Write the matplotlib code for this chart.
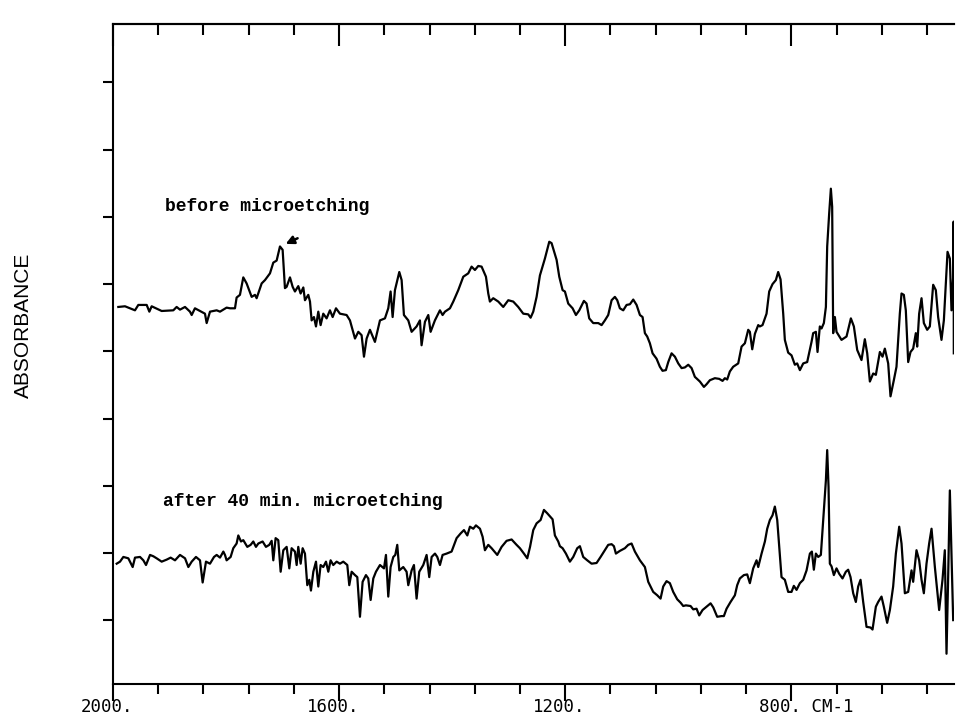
import matplotlib.pyplot as plt
import matplotlib.transforms as mtransforms
import numpy as np

# spectrum before microetching (wavenumber in cm-1, absorbance in arbitrary units)
before_wn = [
    1990.6, 1978.8, 1961.1, 1955.2, 1940.4, 1935.7, 1931.6, 1913.9, 1893.3, 1887.4,
    1881.5, 1872.6, 1863.8, 1860.8, 1855.0, 1846.1, 1837.3, 1834.3, 1828.4, 1816.6,
    1810.7, 1799.0, 1793.0, 1784.2, 1781.3, 1775.4, 1769.5, 1763.6, 1754.7, 1748.8,
    1745.9, 1737.0, 1731.1, 1722.3, 1716.4, 1710.5, 1704.6, 1699.9, 1695.8, 1692.8,
    1686.9, 1682.2, 1678.1, 1672.2, 1668.1, 1663.3, 1660.4, 1654.5, 1651.5, 1648.6,
    1644.5, 1640.9, 1636.8, 1632.7, 1628.0, 1622.1, 1616.2, 1611.4, 1605.5, 1598.5,
    1586.7, 1580.8, 1576.1, 1571.9, 1566.0, 1560.2, 1556.0, 1551.3, 1545.4, 1536.6,
    1527.7, 1518.9, 1513.0, 1508.9, 1505.3, 1501.2, 1493.5, 1489.4, 1485.3, 1477.6,
    1471.7, 1462.9, 1457.0, 1454.1, 1448.1, 1442.2, 1438.1, 1430.5, 1424.5, 1421.6,
    1416.9, 1412.7, 1403.9, 1398.0, 1389.2, 1380.3, 1371.5, 1365.6, 1359.7, 1353.8,
    1347.9, 1340.2, 1336.1, 1333.2, 1327.3, 1318.4, 1309.6, 1300.7, 1291.9, 1283.1,
    1274.2, 1265.4, 1261.2, 1256.5, 1250.6, 1244.7, 1235.9, 1228.2, 1224.1, 1215.2,
    1210.5, 1204.6, 1200.5, 1194.6, 1186.9, 1181.0, 1175.1, 1166.9, 1162.2, 1157.5,
    1150.4, 1141.5, 1135.6, 1129.8, 1123.9, 1117.9, 1112.1, 1107.9, 1103.3, 1097.3,
    1091.4, 1085.5, 1079.6, 1073.7, 1067.8, 1063.1, 1059.0, 1054.9, 1050.2, 1045.4,
    1038.4, 1032.5, 1027.8, 1021.9, 1017.7, 1011.8, 1005.9, 1000.0, 994.1, 988.3,
    982.3, 976.4, 970.6, 961.7, 954.6, 949.9, 944.0, 935.2, 927.5, 921.6,
    917.5, 913.4, 908.7, 902.8, 893.9, 888.0, 882.1, 876.2, 873.3, 869.1,
    864.4, 858.5, 855.6, 850.9, 843.8, 839.1, 833.2, 827.3, 823.2, 819.0,
    814.3, 811.4, 805.5, 799.6, 793.7, 789.6, 784.8, 778.9, 771.9, 764.2,
    761.3, 756.5, 753.6, 749.5, 746.5, 742.4, 738.8, 736.5, 733.0, 730.0,
    727.7, 725.9, 722.9, 720.0, 711.2, 702.3, 694.6, 689.3, 683.4, 675.8,
    669.9, 665.7, 661.0, 655.1, 650.4, 643.3, 638.6, 634.5, 628.6, 624.5,
    618.6, 613.9, 608.0, 605.0, 600.9, 597.4, 593.2, 589.1, 584.4, 579.7,
    577.3, 573.8, 569.6, 565.5, 559.6, 554.9, 549.0, 544.3, 540.2, 534.3,
    530.1, 523.6, 519.5, 516.6, 513.6, 512.8, 512.5,
]
before_abs = [
    4.66, 4.67, 4.61, 4.69, 4.69, 4.59, 4.67, 4.60, 4.61, 4.66,
    4.62, 4.66, 4.59, 4.54, 4.64, 4.60, 4.56, 4.42, 4.59, 4.61,
    4.59, 4.65, 4.64, 4.64, 4.80, 4.84, 5.10, 5.01, 4.81, 4.84,
    4.79, 5.01, 5.06, 5.16, 5.32, 5.35, 5.56, 5.51, 4.94, 4.96,
    5.10, 4.96, 4.89, 4.97, 4.86, 4.95, 4.76, 4.84, 4.74, 4.46,
    4.51, 4.37, 4.59, 4.39, 4.56, 4.49, 4.61, 4.51, 4.64, 4.56,
    4.54, 4.46, 4.32, 4.19, 4.29, 4.24, 3.92, 4.19, 4.32, 4.14,
    4.46, 4.49, 4.64, 4.89, 4.51, 4.91, 5.18, 5.06, 4.54, 4.46,
    4.29, 4.37, 4.46, 4.09, 4.44, 4.54, 4.29, 4.46, 4.56, 4.61,
    4.54, 4.59, 4.64, 4.74, 4.91, 5.11, 5.16, 5.26, 5.21, 5.27,
    5.26, 5.11, 4.86, 4.74, 4.79, 4.74, 4.66, 4.76, 4.74, 4.66,
    4.56, 4.55, 4.50, 4.59, 4.81, 5.13, 5.38, 5.63, 5.61, 5.36,
    5.11, 4.91, 4.89, 4.71, 4.64, 4.54, 4.61, 4.75, 4.71, 4.49,
    4.42, 4.42, 4.39, 4.46, 4.54, 4.76, 4.81, 4.76, 4.64, 4.61,
    4.69, 4.70, 4.77, 4.69, 4.54, 4.51, 4.27, 4.22, 4.12, 3.97,
    3.89, 3.77, 3.71, 3.72, 3.84, 3.97, 3.92, 3.82, 3.75, 3.76,
    3.80, 3.75, 3.62, 3.55, 3.47, 3.51, 3.57, 3.60, 3.59, 3.56,
    3.60, 3.58, 3.70, 3.77, 3.82, 4.07, 4.12, 4.32, 4.29, 4.03,
    4.26, 4.39, 4.37, 4.39, 4.56, 4.89, 5.00, 5.06, 5.18, 5.07,
    4.56, 4.17, 3.98, 3.94, 3.80, 3.82, 3.72, 3.82, 3.84, 4.14,
    4.27, 4.29, 3.99, 4.37, 4.34, 4.42, 4.66, 5.56, 6.05, 6.42,
    6.15, 4.27, 4.51, 4.29, 4.17, 4.22, 4.49, 4.37, 4.02, 3.87,
    4.18, 3.97, 3.55, 3.67, 3.65, 3.99, 3.92, 4.04, 3.82, 3.33,
    3.57, 3.77, 4.56, 4.86, 4.84, 4.61, 3.84, 3.99, 4.04, 4.27,
    4.07, 4.56, 4.79, 4.42, 4.32, 4.37, 4.99, 4.91, 4.51, 4.17,
    4.46, 5.48, 5.38, 4.61, 5.11, 5.93, 3.97,
]

# spectrum after 40 min. microetching
after_wn = [
    1993.5, 1987.6, 1981.7, 1972.9, 1965.2, 1961.1, 1952.2, 1946.3, 1941.6, 1934.5,
    1928.6, 1922.8, 1913.9, 1905.1, 1898.0, 1890.3, 1881.5, 1872.6, 1866.7, 1860.8,
    1853.2, 1846.1, 1841.4, 1835.5, 1828.4, 1821.3, 1816.6, 1810.7, 1804.8, 1801.9,
    1799.0, 1791.9, 1787.2, 1781.3, 1778.3, 1773.6, 1769.5, 1762.4, 1756.5, 1751.8,
    1747.1, 1742.9, 1735.3, 1729.4, 1723.5, 1719.3, 1716.4, 1712.3, 1707.6, 1703.4,
    1698.7, 1692.8, 1688.1, 1684.0, 1678.1, 1675.1, 1672.2, 1668.0, 1664.5, 1660.4,
    1656.3, 1652.7, 1649.8, 1645.6, 1640.9, 1636.8, 1632.7, 1628.0, 1623.2, 1619.1,
    1615.0, 1610.3, 1604.4, 1598.5, 1592.6, 1585.5, 1582.0, 1577.8, 1571.9, 1567.8,
    1563.1, 1558.4, 1552.5, 1548.4, 1544.2, 1539.5, 1534.8, 1527.7, 1520.6, 1517.1,
    1513.0, 1508.9, 1504.1, 1500.6, 1497.1, 1493.5, 1486.5, 1480.6, 1477.6, 1471.7,
    1467.6, 1462.9, 1458.2, 1451.1, 1445.2, 1440.5, 1436.3, 1430.4, 1426.3, 1421.6,
    1416.9, 1409.8, 1401.0, 1392.1, 1385.0, 1379.1, 1373.2, 1368.5, 1362.6, 1357.9,
    1350.8, 1346.1, 1342.0, 1336.1, 1330.2, 1320.2, 1312.5, 1303.7, 1294.8, 1286.0,
    1280.1, 1273.0, 1267.1, 1262.2, 1256.5, 1250.6, 1243.5, 1237.6, 1231.8, 1222.3,
    1218.2, 1212.3, 1209.4, 1204.6, 1198.7, 1191.7, 1185.8, 1178.7, 1174.0, 1168.1,
    1161.0, 1153.3, 1144.5, 1137.4, 1129.8, 1123.9, 1117.9, 1113.8, 1110.3, 1103.3,
    1094.4, 1088.5, 1082.6, 1076.7, 1067.8, 1059.0, 1053.1, 1044.3, 1037.2, 1031.3,
    1026.6, 1020.7, 1014.8, 1008.9, 1001.8, 995.9, 991.2, 986.5, 978.2, 973.5,
    967.6, 962.9, 957.0, 949.9, 942.8, 938.1, 931.1, 923.4, 919.3, 914.5,
    907.5, 899.8, 895.7, 891.0, 883.9, 878.0, 873.3, 867.4, 861.5, 858.5,
    852.6, 846.7, 842.6, 837.9, 833.2, 829.1, 824.9, 821.4, 817.3, 811.4,
    805.5, 799.6, 795.5, 790.7, 784.8, 778.9, 773.0, 767.1, 763.6, 760.1,
    756.5, 752.4, 747.7, 743.6, 738.8, 736.5, 734.1, 731.8, 728.8, 724.7,
    720.0, 715.3, 709.4, 703.5, 699.4, 695.2, 690.5, 685.8, 681.7, 677.5,
    672.8, 666.9, 659.8, 656.3, 650.4, 646.3, 640.4, 636.3, 630.4, 625.6,
    619.8, 615.0, 609.1, 605.0, 599.1, 593.2, 587.3, 584.4, 578.5, 573.8,
    569.6, 565.5, 560.8, 556.1, 551.9, 546.0, 538.4, 532.5, 528.4, 525.4,
    522.5, 519.5, 516.6, 513.6,
]
after_abs = [
    0.84, 0.87, 0.94, 0.92, 0.79, 0.93, 0.94, 0.89, 0.82, 0.97,
    0.95, 0.92, 0.87, 0.90, 0.93, 0.89, 0.97, 0.92, 0.79, 0.87,
    0.94, 0.89, 0.56, 0.87, 0.84, 0.94, 0.97, 0.93, 1.02, 0.97,
    0.89, 0.94, 1.07, 1.14, 1.26, 1.17, 1.19, 1.09, 1.12, 1.17,
    1.09, 1.14, 1.17, 1.09, 1.12, 1.18, 0.89, 1.22, 1.19, 0.72,
    1.04, 1.09, 0.77, 1.07, 1.02, 0.82, 1.09, 0.84, 1.07, 0.99,
    0.52, 0.60, 0.44, 0.72, 0.87, 0.50, 0.82, 0.79, 0.87, 0.72,
    0.89, 0.82, 0.87, 0.84, 0.87, 0.82, 0.52, 0.72, 0.67, 0.64,
    0.05, 0.57, 0.67, 0.62, 0.30, 0.62, 0.72, 0.82, 0.77, 0.97,
    0.35, 0.79, 0.94, 0.97, 1.12, 0.74, 0.79, 0.72, 0.52, 0.74,
    0.82, 0.32, 0.72, 0.82, 0.97, 0.64, 0.94, 0.99, 0.94, 0.82,
    0.97, 0.99, 1.02, 1.22, 1.29, 1.34, 1.26, 1.39, 1.36, 1.41,
    1.36, 1.24, 1.04, 1.12, 1.07, 0.97, 1.09, 1.18, 1.20, 1.12,
    1.07, 0.99, 0.92, 1.09, 1.34, 1.44, 1.49, 1.64, 1.59, 1.50,
    1.26, 1.17, 1.10, 1.07, 0.99, 0.87, 0.94, 1.07, 1.10, 0.94,
    0.89, 0.84, 0.85, 0.94, 1.04, 1.12, 1.13, 1.10, 0.99, 1.03,
    1.07, 1.12, 1.14, 1.02, 0.89, 0.79, 0.57, 0.42, 0.37, 0.32,
    0.50, 0.58, 0.55, 0.42, 0.31, 0.26, 0.21, 0.22, 0.21, 0.16,
    0.17, 0.07, 0.15, 0.20, 0.25, 0.19, 0.05, 0.06, 0.06, 0.17,
    0.27, 0.37, 0.52, 0.62, 0.67, 0.68, 0.55, 0.77, 0.89, 0.79,
    0.99, 1.17, 1.36, 1.49, 1.56, 1.69, 1.49, 1.09, 0.64, 0.60,
    0.42, 0.42, 0.51, 0.45, 0.55, 0.60, 0.74, 0.99, 1.02, 0.75,
    0.99, 0.94, 0.97, 1.49, 2.08, 2.53, 1.98, 0.84, 0.80, 0.67,
    0.77, 0.69, 0.62, 0.72, 0.75, 0.64, 0.40, 0.27, 0.50, 0.60,
    0.27, -0.10, -0.11, -0.14, 0.20, 0.27, 0.35, 0.20, -0.04, 0.15,
    0.50, 0.99, 1.39, 1.14, 0.40, 0.42, 0.74, 0.57, 1.04, 0.89,
    0.60, 0.40, 0.84, 1.14, 1.36, 0.79, 0.15, 0.60, 1.04, -0.50,
    0.64, 1.93, 0.99, 0.00,
]

major_ticks = [2000, 1600, 1200, 800]
major_labels = ["2000.", "1600.", "1200.", "800. CM-1"]
minor_ticks = np.arange(2000, 520, -80)

fig = plt.figure(figsize=(9.56, 7.15), dpi=100)
ax = fig.add_axes([0.1182, 0.0434, 0.8798, 0.923])

ax.plot(before_wn, before_abs, color="black", lw=1.6)
ax.plot(after_wn, after_abs, color="black", lw=1.6)

ax.set_xlim(2000, 512)
ax.set_ylim(-0.95, 8.87)

# frame: left, bottom, top only
for side in ["left", "bottom", "top"]:
    ax.spines[side].set_linewidth(1.5)
ax.spines["right"].set_visible(False)

ax.set_xticks(major_ticks)
ax.set_xticks(minor_ticks, minor=True)
ax.set_xticklabels(major_labels, family="DejaVu Sans Mono", fontsize=12.5)
ax.tick_params(axis="x", which="major", direction="out", length=12, width=1.5, pad=0)
ax.tick_params(axis="x", which="minor", direction="out", length=7, width=1.5)
shift = mtransforms.ScaledTranslation(-32 / 100, 3 / 100, fig.dpi_scale_trans)
for lab in ax.get_xticklabels():
    lab.set_horizontalalignment("left")
    lab.set_transform(lab.get_transform() + shift)

ax.set_yticks(range(9))
ax.set_yticklabels([])
ax.tick_params(axis="y", direction="out", length=7, width=1.5)

# inward ticks on top edge
top = ax.secondary_xaxis("top")
top.set_xticks(major_ticks)
top.set_xticks(minor_ticks, minor=True)
top.set_xticklabels([])
top.tick_params(which="major", direction="in", length=16, width=1.5)
top.tick_params(which="minor", direction="in", length=8, width=1.5)
top.spines["top"].set_linewidth(1.5)

fig.text(0.0246, 0.545, "ABSORBANCE", rotation=90, ha="center", va="center",
         family="Liberation Sans", fontsize=15)

ax.text(1908, 6.16, "before microetching", family="Liberation Mono",
        fontweight="bold", fontsize=13, ha="left", va="center")
ax.text(1912, 1.77, "after 40 min. microetching", family="Liberation Mono",
        fontweight="bold", fontsize=13, ha="left", va="center")
ax.annotate("", xy=(1699, 5.58), xytext=(1669, 5.70),
            arrowprops=dict(arrowstyle="-|>", color="black", lw=1.8, mutation_scale=12))

fig.savefig("out.png", dpi=100)
